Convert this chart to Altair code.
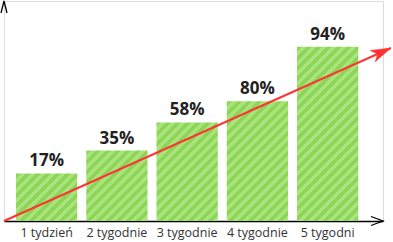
import altair as alt
import pandas as pd

# ---- data ----
categories = ["1 tydzień", "2 tygodnie", "3 tygodnie", "4 tygodnie", "5 tygodni"]
bar_heights = [27, 40, 56, 68, 99]          # drawn bar heights (relative units)
labels = ["17%", "35%", "58%", "80%", "94%"]  # printed values
trend_x = [0.0, 1.021]                     # trend arrow, fraction of x axis
trend_y = [0.0, 98.3]                      # trend arrow, same units as bars

W, H = 379, 220
Y_MAX = 125
PAD_IN, PAD_OUT, ALIGN = 0.128, 0.2615, 0.327

df = pd.DataFrame({"cat": categories, "h": bar_heights, "lab": labels})
trend = pd.DataFrame({"tx": trend_x, "ty": trend_y})
tip = pd.DataFrame({"tx": trend_x[-1:], "ty": trend_y[-1:]})

DARK, LIGHT = "#8dd655", "#a9e37d"
PERIOD = 10.0

step = W / (len(categories) - PAD_IN + 2 * PAD_OUT)
bw = step * (1 - PAD_IN)
py_per_unit = H / Y_MAX


def stripe_gradient(w, h):
    s = w + h
    k = (w * w + h * h) / s
    stops = []
    c = 0.0
    while c < s:
        for col, a, b in ((DARK, c, c + PERIOD / 2), (LIGHT, c + PERIOD / 2, c + PERIOD)):
            a2, b2 = min(a / s, 1.0), min(b / s, 1.0)
            stops.append({"offset": a2, "color": col})
            stops.append({"offset": b2, "color": col})
        c += PERIOD
    return {"gradient": "linear", "x1": 0, "y1": 0, "x2": w / k, "y2": h / k, "stops": stops}


xscale = alt.Scale(paddingInner=PAD_IN, paddingOuter=PAD_OUT, align=ALIGN)
yscale = alt.Scale(domain=[0, Y_MAX], nice=False)

base = alt.Chart(df)
xenc = alt.X("cat:N", sort=categories, scale=xscale,
             axis=alt.Axis(title=None, ticks=False, domainColor="#000", domainWidth=1.3,
                           labelFont="Open Sans", labelFontSize=12.5, labelColor="#333",
                           labelAngle=0, labelPadding=5))
yenc = alt.Y("h:Q", scale=yscale,
             axis=alt.Axis(title=None, ticks=False, labels=False, grid=False,
                           domainColor="#000", domainWidth=1.3))

bar_layers = []
for c, hv in zip(categories, bar_heights):
    grad = stripe_gradient(bw, hv * py_per_unit)
    bar_layers.append(
        base.transform_filter(alt.datum.cat == c)
        .mark_bar(color=grad)
        .encode(x=xenc, y=yenc)
    )

texts = base.mark_text(font="Open Sans", fontWeight="bold", fontSize=17, color="#222",
                       baseline="bottom", dy=-3).encode(
    x=alt.X("cat:N", sort=categories, scale=xscale),
    y=alt.Y("h:Q", scale=yscale),
    text="lab:N",
)

bars = alt.layer(*bar_layers, texts)

tscale_x = alt.Scale(domain=[0, 1], nice=False, zero=False)
tline = alt.Chart(trend).mark_line(color="#f33", strokeWidth=2, clip=False).encode(
    x=alt.X("tx:Q", scale=tscale_x, axis=None),
    y=alt.Y("ty:Q", scale=yscale, axis=None),
)
thead = alt.Chart(tip).mark_point(
    shape="M0,0L-2,-0.62L-1.45,0L-2,0.62Z", filled=True, fill="#f33", stroke="#f33",
    strokeWidth=0.5, fillOpacity=1, opacity=1, size=400, angle=335.9, clip=False
).encode(
    x=alt.X("tx:Q", scale=tscale_x, axis=None),
    y=alt.Y("ty:Q", scale=yscale, axis=None),
)

one = pd.DataFrame({"k": [0]})
xarrow = alt.Chart(one).mark_point(
    shape="M-2,-0.75L0,0L-2,0.75", filled=False, stroke="#000", strokeWidth=1.3,
    size=144, opacity=1, strokeOpacity=1, clip=False
).encode(x=alt.value(W), y=alt.value(H))
yarrow = alt.Chart(one).mark_point(
    shape="M-2,-0.5L0,0L-2,0.5", filled=False, stroke="#000", strokeWidth=1.3,
    size=144, angle=270, opacity=1, strokeOpacity=1, clip=False
).encode(x=alt.value(0), y=alt.value(0))

trend_layer = alt.layer(tline, thead)

chart = alt.layer(bars, trend_layer, xarrow, yarrow).resolve_scale(x="independent").properties(
    width=W, height=H,
    padding={"left": 4, "top": 1, "right": 10, "bottom": 21},
    autosize="none",
).configure_view(stroke="transparent", strokeWidth=0).configure(background="white")

chart.save("out.html", embed_options={"renderer": "svg", "actions": False})
